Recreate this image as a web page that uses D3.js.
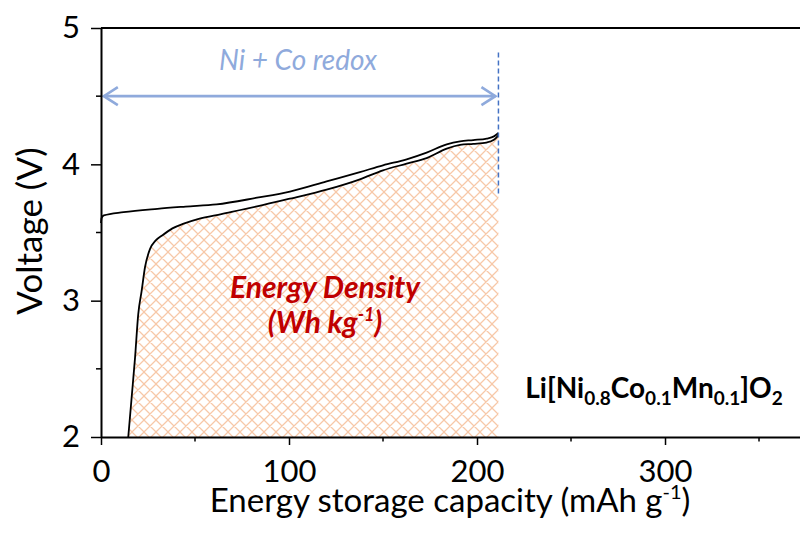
<!DOCTYPE html>
<html>
<head>
<meta charset="utf-8">
<script src="https://cdn.jsdelivr.net/npm/d3@7"></script>
<style>
  html, body { margin: 0; padding: 0; background: #fff; }
  svg { display: block; font-family: Lato, "Open Sans", sans-serif; }
</style>
</head>
<body>
<svg id="chart" width="800" height="534"></svg>
<script>
// Charge curve (upper trace): capacity in mAh/g, voltage in V
const chargeCap = [0, 0.3, 1.5, 12, 30, 45, 61.5, 83, 100.5, 120, 137.7, 150, 162.6, 173.2, 183.9, 191, 198, 205.2, 209, 211.4];
const chargeV   = [3.57, 3.605, 3.625, 3.649, 3.674, 3.69, 3.706, 3.755, 3.80, 3.875, 3.943, 3.993, 4.037, 4.086, 4.147, 4.169, 4.178, 4.189, 4.205, 4.230];

// Lower trace bounding the energy-density area
const lowerCap = [14.5, 16.3, 18.1, 19.8, 21.6, 23.4, 26.1, 29, 32.5, 38, 44, 52, 64, 83, 100.5, 120, 137.7, 150, 162.6, 173.2, 183.9, 191, 198, 205, 209, 211.4];
const lowerV   = [2.0, 2.29, 2.58, 2.90, 3.07, 3.245, 3.38, 3.44, 3.478, 3.53, 3.565, 3.60, 3.635, 3.691, 3.748, 3.814, 3.89, 3.956, 4.005, 4.046, 4.115, 4.142, 4.150, 4.160, 4.18, 4.213];

// Axis ticks
const xMajorTicks = [0, 100, 200, 300];
const xMinorTicks = [50, 150, 250, 350];
const yMajorTicks = [2, 3, 4, 5];
const yMinorTicks = [2.5, 3.5, 4.5];

// Annotation values
const redoxStartCap = 1.5;
const redoxEndCap = 211.4;
const redoxArrowV = 4.5;
const redoxDashV = [3.765, 4.82];

const svg = d3.select("#chart");

const x = d3.scaleLinear().domain([0, 371.8]).range([101, 800]);
const y = d3.scaleLinear().domain([2, 5]).range([437, 28]);

// Hatch pattern for the energy-density area
const defs = svg.append("defs");
const pat = defs.append("pattern")
  .attr("id", "hatch")
  .attr("patternUnits", "userSpaceOnUse")
  .attr("width", 12).attr("height", 12);
pat.append("path")
  .attr("d", "M0,0L12,12M12,0L0,12M-1,11L1,13M11,-1L13,1M-1,1L1,-1M11,13L13,11")
  .attr("stroke", "#f4b183")
  .attr("stroke-width", 1.25)
  .attr("stroke-opacity", 0.7)
  .attr("fill", "none");

const lowerData = lowerCap.map((c, i) => [c, lowerV[i]]);
const chargeData = chargeCap.map((c, i) => [c, chargeV[i]]);

svg.append("path")
  .datum(lowerData)
  .attr("fill", "url(#hatch)")
  .attr("d", d3.area()
    .x(d => x(d[0]))
    .y0(y(2))
    .y1(d => y(d[1]))
    .curve(d3.curveMonotoneX));

const line = d3.line()
  .x(d => x(d[0]))
  .y(d => y(d[1]))
  .curve(d3.curveMonotoneX);

svg.append("path").datum(chargeData)
  .attr("fill", "none").attr("stroke", "#000").attr("stroke-width", 1.8)
  .attr("d", line);
svg.append("path").datum(lowerData)
  .attr("fill", "none").attr("stroke", "#000").attr("stroke-width", 1.8)
  .attr("d", line);

// Dashed limit line
svg.append("line")
  .attr("x1", x(redoxEndCap)).attr("x2", x(redoxEndCap))
  .attr("y1", y(redoxDashV[1])).attr("y2", y(redoxDashV[0]))
  .attr("stroke", "#4472c4").attr("stroke-width", 1.5)
  .attr("stroke-dasharray", "5,3");

// Double-headed arrow
const ay = y(redoxArrowV);
const ax0 = x(redoxStartCap), ax1 = x(redoxEndCap) - 3;
const arrowColor = "#8faadc";
svg.append("line")
  .attr("x1", ax0).attr("x2", ax1).attr("y1", ay).attr("y2", ay)
  .attr("stroke", arrowColor).attr("stroke-width", 2.6);
svg.append("path")
  .attr("d", `M${ax0 + 14},${ay - 9}L${ax0},${ay}L${ax0 + 14},${ay + 9}`)
  .attr("fill", "none").attr("stroke", arrowColor).attr("stroke-width", 2.6)
  .attr("stroke-linejoin", "miter");
svg.append("path")
  .attr("d", `M${ax1 - 14},${ay - 9}L${ax1},${ay}L${ax1 - 14},${ay + 9}`)
  .attr("fill", "none").attr("stroke", arrowColor).attr("stroke-width", 2.6)
  .attr("stroke-linejoin", "miter");

svg.append("text")
  .attr("x", 298).attr("y", 70)
  .attr("text-anchor", "middle")
  .attr("font-style", "italic")
  .attr("font-size", 28)
  .attr("fill", arrowColor)
  .text("Ni + Co redox");

// Energy density label
svg.append("text")
  .attr("x", 325).attr("y", 298)
  .attr("text-anchor", "middle")
  .attr("font-style", "italic").attr("font-weight", "bold")
  .attr("font-size", 30)
  .attr("fill", "#c00000")
  .text("Energy Density");
const ed2 = svg.append("text")
  .attr("x", 325).attr("y", 333)
  .attr("text-anchor", "middle")
  .attr("font-style", "italic").attr("font-weight", "bold")
  .attr("font-size", 30)
  .attr("fill", "#c00000");
ed2.append("tspan").text("(Wh kg");
ed2.append("tspan").attr("font-size", 18).attr("dy", -12).text("-1");
ed2.append("tspan").attr("dy", 12).text(")");

// Composition label
const comp = svg.append("text")
  .attr("x", 654).attr("y", 398)
  .attr("text-anchor", "middle")
  .attr("font-weight", "bold")
  .attr("font-size", 28)
  .attr("fill", "#000");
const parts = [["Li[Ni", false], ["0.8", true], ["Co", false], ["0.1", true], ["Mn", false], ["0.1", true], ["]O", false], ["2", true]];
let sub = false;
parts.forEach(([t, isSub]) => {
  const ts = comp.append("tspan").text(t);
  if (isSub && !sub) { ts.attr("dy", 7).attr("font-size", 19); sub = true; }
  else if (isSub) { ts.attr("font-size", 19); }
  else if (!isSub && sub) { ts.attr("dy", -7); sub = false; }
});

// Axes
const axisG = svg.append("g");
const xAxis = axisG.append("g").attr("transform", `translate(0,${y(2)})`)
  .call(d3.axisBottom(x).tickValues(xMajorTicks).tickFormat(d3.format("d"))
    .tickSize(8).tickSizeOuter(0).tickPadding(15));
xAxis.append("g").selectAll("line").data(xMinorTicks).join("line")
  .attr("x1", d => x(d)).attr("x2", d => x(d)).attr("y1", 0).attr("y2", 4.5)
  .attr("stroke", "#000").attr("stroke-width", 1.5);

const yAxis = axisG.append("g").attr("transform", `translate(${x(0)},0)`)
  .call(d3.axisLeft(y).tickValues(yMajorTicks).tickFormat(d3.format("d"))
    .tickSize(10).tickSizeOuter(0).tickPadding(11));
yAxis.append("g").selectAll("line").data(yMinorTicks).join("line")
  .attr("x1", 0).attr("x2", -5).attr("y1", d => y(d)).attr("y2", d => y(d))
  .attr("stroke", "#000").attr("stroke-width", 1.5);

axisG.selectAll(".domain").attr("stroke", "#000").attr("stroke-width", 2);
axisG.selectAll(".tick line").attr("stroke", "#000").attr("stroke-width", 1.5);
axisG.selectAll(".tick text").attr("font-size", 31).attr("font-family", "Lato, sans-serif").attr("fill", "#000");

// Top frame line
svg.append("line")
  .attr("x1", x(0)).attr("x2", 800).attr("y1", y(5)).attr("y2", y(5))
  .attr("stroke", "#000").attr("stroke-width", 2);

// Axis titles
const xt = svg.append("text")
  .attr("x", 450).attr("y", 512)
  .attr("text-anchor", "middle")
  .attr("font-size", 33)
  .attr("fill", "#000");
xt.append("tspan").text("Energy storage capacity (mAh g");
xt.append("tspan").attr("font-size", 20).attr("dy", -13).text("-1");
xt.append("tspan").attr("dy", 13).text(")");

svg.append("text")
  .attr("transform", "translate(42,231) rotate(-90)")
  .attr("text-anchor", "middle")
  .attr("font-size", 35)
  .attr("fill", "#000")
  .text("Voltage (V)");
</script>
</body>
</html>
